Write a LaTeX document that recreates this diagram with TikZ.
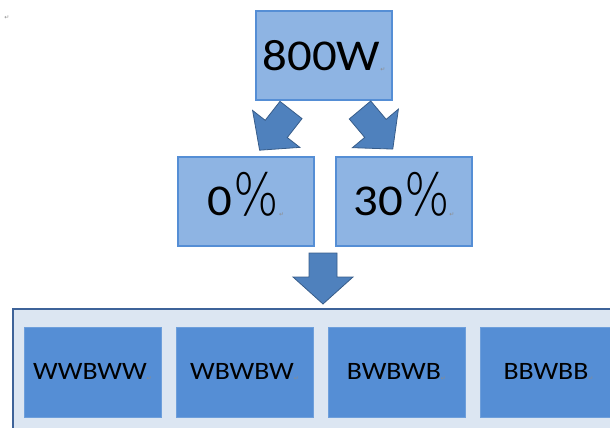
\documentclass[tikz,border=0pt]{standalone}
\usepackage{graphicx}
\usepackage{fontspec}
\setmainfont{Carlito}
\newfontfamily\pctfont{DejaVu Sans ExtraLight}
\newfontfamily\symfont{DejaVu Sans}
\definecolor{lightfill}{HTML}{8EB4E3}
\definecolor{lightedge}{HTML}{558ED5}
\definecolor{arrowfill}{HTML}{4F81BD}
\definecolor{arrowedge}{HTML}{385D8A}
\definecolor{panelfill}{HTML}{DCE6F2}
\definecolor{paneledge}{HTML}{3E6399}
\definecolor{cellfill}{HTML}{558ED5}
% Word-style paragraph mark
\newcommand{\pmark}{{\symfont\fontsize{6}{6}\selectfont\color{black!45}\raisebox{-1pt}{↵}}}
% light percent sign (kept out of the vertical centring)
\newcommand{\pct}{{\pctfont\fontsize{52}{52}\selectfont\hspace{1pt}\smash{\scalebox{0.92}[1.12]{\%}}}}
% slightly widened lettering
\newcommand{\wide}[1]{\scalebox{1.11}[1]{#1}}
\tikzset{
  lightbox/.style={draw=lightedge, line width=1.6pt, fill=lightfill,
    minimum width=136pt, minimum height=89pt, inner sep=0pt,
    font=\fontsize{44}{44}\selectfont},
  cellbox/.style={fill=cellfill, draw=cellfill!85!white, line width=0.6pt,
    minimum width=137pt, minimum height=90pt, inner sep=0pt,
    font=\fontsize{25}{25}\selectfont},
  blockarrow/.pic={
    \draw[fill=arrowfill, draw=arrowedge, line width=0.8pt, line join=miter]
      (-14,0) -- (14,0) -- (14,24) -- (30,24) -- (0,51) -- (-30,24) -- (-14,24) -- cycle;
  }
}
\begin{document}
\begin{tikzpicture}[x=1pt, y=-1pt]
  \useasboundingbox (0,0) rectangle (610,428);
  \clip (0,0) rectangle (610,428);

  % stray paragraph mark in the corner
  \node[inner sep=0pt] (corner) at (7,18) {\pmark};

  % top power box and the two ratio boxes
  \node[lightbox] (power) at (324,55.5) {\wide{800W}\pmark};
  \node[lightbox] (zero) at (246,201.5) {\wide{0}\pct\pmark};
  \node[lightbox] (thirty) at (404,201.5) {\wide{30}\pct\pmark};

  % block arrows
  \pic[rotate=-38] at (291,110) {blockarrow};
  \pic[rotate=40] at (360,110) {blockarrow};
  \pic at (323,253) {blockarrow};

  % pattern panel
  \node[draw=paneledge, line width=2pt, fill=panelfill, minimum width=620pt,
        minimum height=140pt, inner sep=0pt, anchor=north west] (panel) at (12,308) {};
  \node[cellbox] (c1) at (92.5,372) {\wide{WWBWW}\pmark};
  \node[cellbox] (c2) at (244.5,372) {\wide{WBWBW}\pmark};
  \node[cellbox] (c3) at (396.5,372) {\wide{BWBWB}\pmark};
  \node[cellbox] (c4) at (548.5,372) {\wide{BBWBB}\pmark};
\end{tikzpicture}
\end{document}
